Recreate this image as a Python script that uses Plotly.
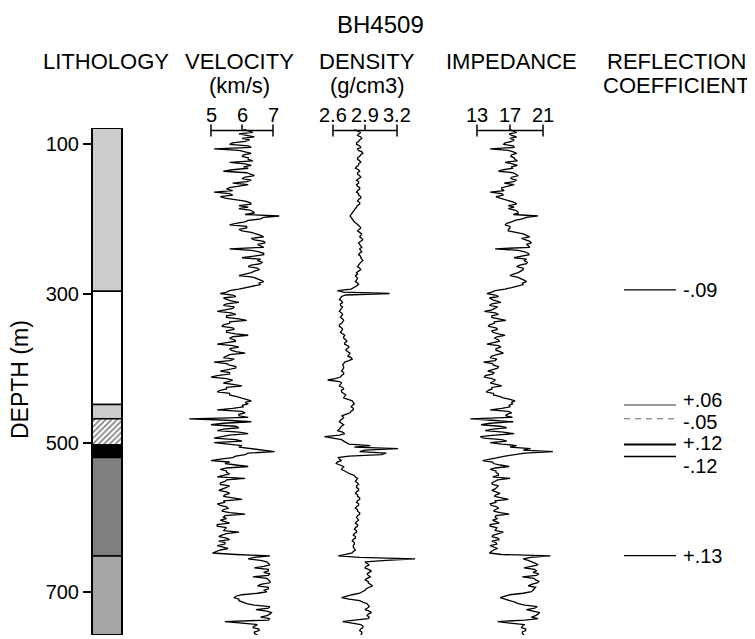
import plotly.graph_objects as go

# ---------------- data ----------------
TITLE = "BH4509"
TRACK_TITLES = ["LITHOLOGY", "VELOCITY", "DENSITY", "IMPEDANCE", "REFLECTION"]
TRACK_UNITS = ["", "(km/s)", "(g/cm3)", "", "COEFFICIENT"]
DEPTH_TITLE = "DEPTH (m)"

DEPTH_START = 80   # m, first log sample
DEPTH_STEP = 2     # m, log sample interval

VELOCITY = [  # km/s
    6.05, 6.2, 6.35, 5.9, 6.1, 6.4, 6.0, 6.25, 6.1, 5.7, 5.6, 6.2, 6.3, 5.1, 5.9, 6.15, 6.3, 6.05, 6.0, 6.2,
    6.2, 6.35, 5.6, 6.1, 6.3, 6.05, 6.2, 5.7, 5.4, 6.15, 6.25, 6.4, 6.1, 6.0, 6.3, 6.15, 5.7, 6.2, 5.9, 5.6,
    5.5, 5.7, 5.1, 5.6, 5.7, 5.3, 5.45, 5.8, 6.1, 6.25, 6.3, 5.9, 6.2, 5.9, 6.25, 6.35, 6.4, 6.1, 7.2, 6.7,
    6.6, 6.2, 6.1, 5.8, 5.6, 6.15, 6.15, 5.9, 6.0, 6.3, 6.5, 6.6, 6.7, 6.3, 6.4, 6.7, 6.75, 6.5, 6.6, 6.7,
    5.6, 6.3, 6.55, 6.7, 6.7, 6.4, 6.0, 6.6, 6.5, 6.65, 6.6, 6.3, 6.2, 6.5, 6.55, 6.4, 6.3, 6.1, 5.9, 6.35,
    6.5, 6.6, 6.7, 6.55, 6.6, 6.4, 6.1, 5.9, 5.6, 5.5, 5.3, 5.7, 5.8, 5.4, 5.5, 5.65, 5.9, 5.5, 5.4, 5.75,
    5.7, 5.5, 5.2, 5.65, 5.8, 5.5, 5.5, 5.9, 6.15, 5.6, 5.6, 5.4, 5.35, 5.7, 5.75, 5.5, 5.5, 5.8, 6.2, 5.7,
    5.6, 5.75, 5.8, 5.5, 5.2, 5.7, 5.9, 5.6, 5.65, 5.8, 6.1, 5.6, 5.5, 5.4, 5.75, 5.6, 5.1, 5.5, 5.6, 5.8,
    5.8, 5.5, 5.3, 5.6, 5.6, 5.2, 5.0, 5.5, 5.7, 5.6, 5.4, 5.7, 6.0, 5.5, 5.5, 5.3, 5.2, 5.6, 5.6, 5.8,
    6.0, 6.2, 6.3, 6.1, 6.2, 6.0, 6.05, 5.7, 5.2, 6.0, 6.1, 5.9, 5.9, 6.2, 4.3, 5.5, 6.3, 5.4, 5.0, 5.8,
    5.9, 5.4, 5.2, 5.9, 6.2, 5.6, 5.4, 5.1, 5.8, 6.0, 5.1, 5.7, 6.0, 5.9, 6.3, 6.6, 7.05, 6.2, 6.1, 5.8,
    5.7, 5.3, 5.0, 5.6, 5.45, 5.8, 6.2, 5.5, 5.3, 5.5, 5.5, 5.6, 5.4, 5.2, 6.1, 5.5, 5.45, 5.3, 5.3, 5.6,
    5.5, 5.4, 5.25, 5.5, 5.6, 5.45, 5.4, 5.7, 6.0, 5.4, 5.45, 5.2, 5.3, 5.5, 5.55, 5.4, 5.35, 5.6, 6.1, 5.45,
    5.4, 5.5, 5.3, 5.45, 5.6, 5.2, 5.2, 5.5, 5.45, 5.4, 5.9, 5.5, 5.35, 5.25, 5.5, 5.6, 5.25, 5.45, 5.45, 5.2,
    5.4, 5.55, 5.3, 5.2, 5.05, 5.8, 6.9, 6.4, 6.2, 6.6, 6.8, 6.85, 6.9, 6.7, 6.4, 6.85, 6.85, 6.7, 6.9, 6.85,
    6.35, 6.8, 6.85, 6.9, 6.9, 6.6, 6.5, 6.85, 6.85, 6.7, 6.8, 6.5, 6.0, 5.8, 5.75, 5.9, 5.9, 6.05, 6.15, 6.4,
    6.9, 6.85, 6.45, 6.8, 6.95, 6.9, 6.8, 6.6, 6.9, 6.85, 5.45, 6.0, 6.5, 6.4, 6.35, 6.55, 6.55, 6.4, 6.4, 6.5,
]

DENSITY = [  # g/cm3
    2.80, 2.83, 2.86, 2.84, 2.83, 2.86, 2.87, 2.85, 2.84, 2.82, 2.82, 2.85, 2.86, 2.83, 2.84, 2.87, 2.88, 2.86, 2.85, 2.83,
    2.83, 2.85, 2.86, 2.84, 2.84, 2.82, 2.81, 2.84, 2.85, 2.83, 2.83, 2.85, 2.86, 2.84, 2.82, 2.84, 2.84, 2.82, 2.83, 2.85,
    2.85, 2.83, 2.82, 2.84, 2.84, 2.86, 2.86, 2.84, 2.83, 2.85, 2.85, 2.83, 2.82, 2.81, 2.80, 2.79, 2.78, 2.77, 2.76, 2.77,
    2.78, 2.79, 2.80, 2.82, 2.84, 2.85, 2.86, 2.84, 2.83, 2.85, 2.87, 2.86, 2.85, 2.87, 2.88, 2.86, 2.84, 2.85, 2.86, 2.87,
    2.85, 2.86, 2.87, 2.85, 2.84, 2.86, 2.86, 2.87, 2.88, 2.86, 2.85, 2.84, 2.83, 2.85, 2.86, 2.84, 2.82, 2.83, 2.81, 2.82,
    2.83, 2.82, 2.81, 2.83, 2.84, 2.82, 2.79, 2.77, 2.64, 2.70, 3.13, 2.72, 2.68, 2.67, 2.66, 2.68, 2.69, 2.67, 2.67, 2.69,
    2.68, 2.67, 2.66, 2.68, 2.69, 2.68, 2.67, 2.69, 2.70, 2.69, 2.68, 2.66, 2.66, 2.68, 2.69, 2.68, 2.67, 2.69, 2.71, 2.70,
    2.70, 2.72, 2.73, 2.71, 2.71, 2.74, 2.75, 2.73, 2.72, 2.74, 2.76, 2.75, 2.74, 2.77, 2.78, 2.75, 2.71, 2.70, 2.69, 2.70,
    2.70, 2.69, 2.68, 2.70, 2.70, 2.68, 2.67, 2.62, 2.55, 2.66, 2.68, 2.67, 2.66, 2.69, 2.70, 2.68, 2.68, 2.70, 2.72, 2.71,
    2.70, 2.74, 2.78, 2.79, 2.80, 2.78, 2.77, 2.79, 2.79, 2.77, 2.76, 2.72, 2.68, 2.70, 2.69, 2.67, 2.66, 2.68, 2.70, 2.68,
    2.67, 2.66, 2.64, 2.69, 2.71, 2.66, 2.52, 2.62, 2.68, 2.70, 2.72, 2.75, 2.95, 2.80, 3.21, 2.90, 2.85, 3.10, 3.05, 2.75,
    2.65, 2.66, 2.68, 2.64, 2.63, 2.67, 2.70, 2.69, 2.68, 2.71, 2.73, 2.76, 2.80, 2.81, 2.83, 2.82, 2.81, 2.83, 2.84, 2.82,
    2.82, 2.84, 2.84, 2.82, 2.81, 2.83, 2.83, 2.85, 2.85, 2.83, 2.82, 2.84, 2.84, 2.82, 2.81, 2.83, 2.83, 2.85, 2.85, 2.83,
    2.82, 2.83, 2.84, 2.82, 2.81, 2.83, 2.83, 2.81, 2.80, 2.82, 2.82, 2.80, 2.79, 2.81, 2.81, 2.79, 2.78, 2.80, 2.80, 2.79,
    2.79, 2.80, 2.81, 2.79, 2.78, 2.72, 2.65, 2.85, 3.37, 3.10, 2.90, 2.92, 2.94, 2.91, 2.90, 2.93, 2.96, 2.94, 2.92, 2.93,
    2.95, 2.92, 2.90, 2.93, 2.93, 2.95, 2.97, 2.94, 2.91, 2.90, 2.88, 2.85, 2.78, 2.72, 2.68, 2.75, 2.85, 2.88, 2.92, 2.93,
    2.94, 2.92, 2.90, 2.94, 2.96, 2.93, 2.92, 2.94, 2.93, 2.80, 2.69, 2.78, 2.86, 2.88, 2.88, 2.86, 2.85, 2.87, 2.87, 2.86,
]

IMPEDANCE = [  # (km/s)(g/cm3)
    17.0, 17.4, 17.8, 16.9, 17.2, 17.8, 17.0, 17.5, 17.2, 16.4, 16.2, 17.4, 17.5, 14.6, 16.8, 17.4, 17.8, 17.2, 17.1, 17.5,
    17.6, 17.9, 16.4, 17.3, 17.9, 17.2, 17.3, 16.2, 15.6, 17.4, 17.7, 18.0, 17.2, 17.1, 17.8, 17.4, 16.3, 17.5, 16.8, 16.0,
    16.0, 16.3, 14.6, 16.0, 16.2, 15.3, 15.8, 16.4, 17.3, 17.6, 17.8, 16.8, 17.5, 16.8, 17.6, 17.9, 18.0, 17.4, 20.4, 19.0,
    18.5, 17.6, 17.2, 16.6, 16.4, 17.0, 17.0, 16.8, 16.8, 17.8, 18.6, 19.0, 19.4, 18.4, 18.9, 19.4, 19.6, 19.0, 19.2, 19.4,
    15.2, 18.0, 18.8, 19.2, 19.3, 18.4, 17.5, 19.0, 18.7, 19.1, 19.0, 18.2, 17.8, 18.6, 18.6, 18.3, 18.0, 17.4, 17.0, 17.9,
    18.4, 18.7, 19.0, 18.5, 18.6, 18.0, 17.2, 16.4, 15.2, 14.8, 14.2, 15.2, 15.6, 14.5, 14.8, 15.3, 15.9, 14.8, 14.5, 15.5,
    15.2, 14.8, 13.9, 15.2, 15.6, 14.8, 14.8, 15.9, 16.5, 15.1, 15.1, 14.5, 14.4, 15.3, 15.5, 14.8, 14.9, 15.6, 16.4, 15.4,
    15.1, 15.6, 15.7, 15.0, 14.2, 15.6, 15.9, 15.3, 15.3, 15.8, 16.2, 15.4, 14.8, 14.6, 15.4, 15.2, 13.8, 14.9, 15.0, 15.6,
    15.5, 14.9, 14.3, 15.1, 14.9, 14.0, 13.9, 14.8, 15.2, 15.0, 14.6, 15.3, 16.0, 14.8, 14.8, 14.4, 14.1, 15.0, 15.0, 15.7,
    16.2, 17.0, 17.6, 17.2, 17.3, 16.9, 17.0, 16.0, 14.6, 16.8, 17.2, 16.6, 16.5, 17.3, 12.2, 14.8, 17.4, 14.6, 13.5, 15.8,
    16.6, 14.9, 14.0, 16.2, 17.5, 15.2, 13.4, 13.8, 16.0, 16.6, 14.6, 16.0, 17.8, 17.0, 19.5, 18.6, 22.2, 18.8, 17.2, 16.4,
    15.5, 14.5, 13.7, 14.9, 15.0, 15.8, 16.9, 15.2, 14.6, 15.3, 15.3, 15.6, 15.6, 14.9, 17.0, 15.5, 15.2, 14.8, 14.9, 15.6,
    15.4, 15.2, 14.8, 15.4, 15.8, 15.3, 15.1, 16.0, 16.8, 15.2, 15.3, 14.6, 14.7, 15.4, 15.6, 15.2, 15.0, 15.8, 16.9, 15.3,
    15.2, 15.5, 14.9, 15.3, 15.7, 14.6, 14.6, 15.4, 15.3, 15.2, 16.2, 15.4, 15.0, 14.8, 15.5, 15.7, 14.8, 15.3, 15.4, 14.6,
    15.2, 15.5, 15.0, 14.7, 14.5, 16.0, 21.9, 19.5, 18.6, 19.2, 19.8, 20.1, 20.4, 19.6, 18.7, 20.0, 20.2, 19.8, 20.5, 20.2,
    18.5, 19.9, 20.1, 20.5, 20.3, 19.6, 19.2, 20.1, 20.0, 19.8, 19.6, 18.6, 17.0, 16.2, 15.8, 16.4, 17.2, 17.6, 18.0, 18.8,
    20.3, 20.0, 19.0, 19.9, 20.6, 20.4, 20.1, 19.6, 20.4, 18.8, 15.5, 17.0, 18.8, 18.5, 18.4, 18.9, 18.9, 18.5, 18.5, 18.7,
]

VEL_TICKS = [5, 6, 7]
DEN_TICKS = [2.6, 2.9, 3.2]
IMP_TICKS = [13, 17, 21]
VEL_TICK_LABELS = ["5", "6", "7"]
DEN_TICK_LABELS = ["2.6", "2.9", "3.2"]
IMP_TICK_LABELS = ["13", "17", "21"]

DEPTH_TICKS = [100, 300, 500, 700]

LITH_TOP = [78, 297, 449, 468, 503, 520, 652]
LITH_BASE = [297, 449, 468, 503, 520, 652, 758]
LITH_UNIT = ["light", "white", "light", "hatched", "black", "dark", "medium"]

REFL_DEPTH = [295, 449.5, 468, 502.5, 518.5, 651.5]
REFL_LABEL = ["-.09", "+.06", "-.05", "+.12", "-.12", "+.13"]

# ---------------- styles / layout helpers ----------------
OFF = 8                         # page body margin (px)
PAGE_W, PAGE_H = 755, 639
W, H = PAGE_W - OFF, PAGE_H - OFF
TOP, BOTTOM = 128, 635          # plot area in page px
FONT = "Liberation Sans, Arial, Helvetica, sans-serif"
FS_HDR = 22
FS_TICK = 20

UNIT_COLOR = {"light": "#cccccc", "white": "#ffffff", "hatched": "#ffffff",
              "black": "#000000", "dark": "#7f7f7f", "medium": "#a6a6a6"}
REFL_STYLE = [dict(color="black", width=1.3, dash="solid"),
              dict(color="#333333", width=1.0, dash="solid"),
              dict(color="#666666", width=1.0, dash="6px,5px"),
              dict(color="black", width=1.8, dash="solid"),
              dict(color="black", width=1.5, dash="solid"),
              dict(color="black", width=1.3, dash="solid")]
REFL_SHIFT = [0, 5, -3, 2, -10, 0]   # label vertical offsets (px)


def fx(px):
    return (px - OFF) / W


def fy(px):
    return (BOTTOM - px) / (BOTTOM - TOP)


def axis_range(v0, p0, v1, p1, d0, d1):
    k = (v1 - v0) / (p1 - p0)
    return [v0 + (d0 - p0) * k, v0 + (d1 - p0) * k]


def depths_for(vals):
    return [DEPTH_START + i * DEPTH_STEP for i in range(len(vals))]


fig = go.Figure()

# lithology column
for top, base, unit in zip(LITH_TOP, LITH_BASE, LITH_UNIT):
    marker = dict(color=UNIT_COLOR[unit], line=dict(color="black", width=1.5))
    if unit == "hatched":
        marker["pattern"] = dict(shape="/", fgcolor="black", bgcolor="white",
                                 size=4, solidity=0.4)
    fig.add_trace(go.Bar(x=[0], y=[base - top], base=[top], width=1,
                         marker=marker, xaxis="x", yaxis="y",
                         hoverinfo="skip"))

# log curves
tracks = [
    ("x2", VELOCITY, VEL_TICKS, VEL_TICK_LABELS, (211, 273), (175, 302)),
    ("x3", DENSITY, DEN_TICKS, DEN_TICK_LABELS, (333, 397), (305, 432)),
    ("x4", IMPEDANCE, IMP_TICKS, IMP_TICK_LABELS, (477, 543), (440, 585)),
]
layout_axes = {}
shapes = []
annotations = []
BAR_Y = 130.5
for xa, vals, ticks, tlabels, (p0, p1), (d0, d1) in tracks:
    fig.add_trace(go.Scatter(x=vals, y=depths_for(vals), mode="lines",
                             line=dict(color="black", width=1.3),
                             xaxis=xa, yaxis="y", hoverinfo="skip"))
    rng = axis_range(ticks[0], p0, ticks[-1], p1, d0, d1)
    layout_axes["xaxis" + xa[1:]] = dict(domain=[fx(d0), fx(d1)], range=rng,
                                         anchor="y", visible=False,
                                         fixedrange=True)
    shapes.append(dict(type="line", xref=xa, yref="paper",
                       x0=ticks[0], x1=ticks[-1], y0=fy(BAR_Y), y1=fy(BAR_Y),
                       line=dict(color="black", width=1.5), layer="above"))
    for j, t in enumerate(ticks):
        end = j in (0, len(ticks) - 1)
        shapes.append(dict(type="line", xref=xa, yref="paper",
                           x0=t, x1=t,
                           y0=fy(BAR_Y - 6), y1=fy(BAR_Y + (6 if end else 0)),
                           line=dict(color="black", width=1.5), layer="above"))
    for t, lab in zip(ticks, tlabels):
        annotations.append(dict(text=lab, xref=xa, yref="paper", x=t,
                                y=fy(115), showarrow=False,
                                xanchor="center", yanchor="middle",
                                font=dict(size=FS_TICK, color="black",
                                          family=FONT)))

# reflection coefficients
layout_axes["xaxis5"] = dict(domain=[fx(600), fx(755)], range=[600, 755],
                             anchor="y", visible=False, fixedrange=True)
for d, lab, st, sh in zip(REFL_DEPTH, REFL_LABEL, REFL_STYLE, REFL_SHIFT):
    fig.add_trace(go.Scatter(x=[624, 676], y=[d, d], mode="lines",
                             line=st, xaxis="x5", yaxis="y",
                             hoverinfo="skip"))
    annotations.append(dict(text=lab, xref="x5", yref="y", x=681, y=d,
                            yshift=sh, showarrow=False, xanchor="left",
                            yanchor="middle",
                            font=dict(size=FS_TICK, color="black",
                                      family=FONT)))

# column outline
shapes.append(dict(type="rect", xref="paper", yref="y",
                   x0=fx(92), x1=fx(122), y0=LITH_TOP[0], y1=LITH_BASE[-1],
                   line=dict(color="black", width=2), layer="above"))

# headers
hdr_x = [106, 240, 367, 511, 676]
for t, u, x in zip(TRACK_TITLES, TRACK_UNITS, hdr_x):
    annotations.append(dict(text=t, xref="paper", yref="paper", x=fx(x),
                            y=fy(61), showarrow=False, xanchor="center",
                            yanchor="middle",
                            font=dict(size=FS_HDR, color="black",
                                      family=FONT)))
    if u:
        annotations.append(dict(text=u, xref="paper", yref="paper", x=fx(x),
                                y=fy(85), showarrow=False, xanchor="center",
                                yanchor="middle",
                                font=dict(size=FS_HDR, color="black",
                                          family=FONT)))
annotations.append(dict(text=TITLE, xref="paper", yref="paper", x=fx(380),
                        y=fy(24), showarrow=False, xanchor="center",
                        yanchor="middle",
                        font=dict(size=24, color="black", family=FONT)))
annotations.append(dict(text=DEPTH_TITLE, xref="paper", yref="paper",
                        x=fx(20), y=fy(380), showarrow=False, textangle=-90,
                        xanchor="center", yanchor="middle",
                        font=dict(size=FS_HDR + 1, color="black",
                                  family=FONT)))

fig.update_layout(
    width=W, height=H,
    margin=dict(l=0, r=0, t=TOP - OFF, b=H - (BOTTOM - OFF), pad=0),
    paper_bgcolor="white", plot_bgcolor="white",
    showlegend=False, barmode="overlay",
    xaxis=dict(domain=[fx(92), fx(122)], range=[-0.5, 0.5], visible=False,
               fixedrange=True),
    yaxis=dict(range=[LITH_BASE[-1], LITH_TOP[0]], tickvals=DEPTH_TICKS,
               ticks="outside", ticklen=8, tickwidth=1.5, tickcolor="black",
               showgrid=False, zeroline=False, showline=False,
               tickfont=dict(size=FS_TICK, color="black", family=FONT),
               automargin=False, fixedrange=True),
    shapes=shapes, annotations=annotations,
    **layout_axes,
)

fig.write_html("out.html")
